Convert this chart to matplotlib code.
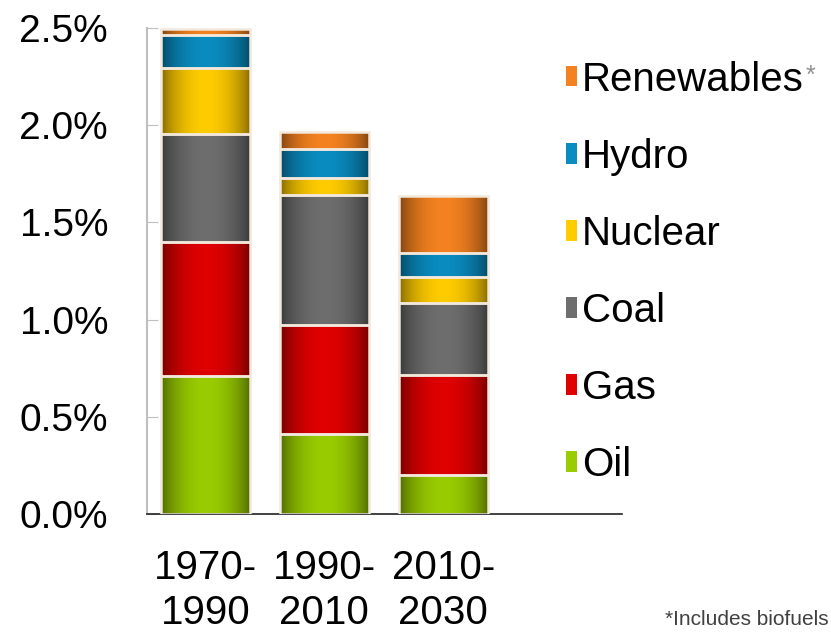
import matplotlib
matplotlib.use('agg')
import matplotlib.pyplot as plt
from matplotlib.patches import Patch
from matplotlib.colors import to_rgb
import numpy as np

plt.rcParams['font.family'] = ['Liberation Sans', 'DejaVu Sans']

periods = ['1970-\n1990', '1990-\n2010', '2010-\n2030']
sources = ['Oil', 'Gas', 'Coal', 'Nuclear', 'Hydro', 'Renewables']
oil = [0.71, 0.41, 0.20]
gas = [0.69, 0.56, 0.515]
coal = [0.555, 0.67, 0.37]
nuclear = [0.34, 0.09, 0.135]
hydro = [0.17, 0.145, 0.125]
renewables = [0.03, 0.09, 0.29]
colors = ['#9acd00', '#e00000', '#6e6e6e', '#ffcc00', '#0a8cc0', '#f58220']

values = [oil, gas, coal, nuclear, hydro, renewables]

fig = plt.figure(figsize=(8.31, 6.32), dpi=100)
ax = fig.add_axes([0.1769, 0.1867, 0.5716, 0.769])

# horizontal shading like the original bars (dark edges, bright middle)
t = np.linspace(0, 1, 64)
shade = 0.5 + 0.5 * np.sin(np.pi * t) ** 0.7

x = np.arange(len(periods))
bottom = np.zeros(len(periods))
for vals, col in zip(values, colors):
    bars = ax.bar(x, vals, 0.75, bottom=bottom, color=col,
                  edgecolor='#f3e8dc', linewidth=1.8, zorder=3)
    base = np.array(to_rgb(col))
    grad = np.clip(shade[None, :, None] * base[None, None, :], 0, 1)
    for r in bars:
        im = ax.imshow(grad, extent=[r.get_x(), r.get_x() + r.get_width(),
                                     r.get_y(), r.get_y() + r.get_height()],
                       aspect='auto', zorder=2, interpolation='bilinear')
        im.set_clip_path(r)
        r.set_facecolor('none')
    bottom += np.array(vals)

ax.set_xlim(-0.49, 3.5)
ax.set_ylim(0, 2.5)
ax.set_yticks(np.arange(0, 2.51, 0.5))
ax.set_yticklabels(['%.1f%%' % v for v in np.arange(0, 2.51, 0.5)])
ax.set_xticks(x)
ax.set_xticklabels(periods, linespacing=1.24)
ax.tick_params(axis='y', direction='in', length=8, color='#bfbfbf',
               labelsize=28, pad=28)
ax.tick_params(axis='x', length=0, labelsize=29, pad=25)
for s in ['top', 'right']:
    ax.spines[s].set_visible(False)
ax.spines['left'].set_color('#bfbfbf')
ax.spines['left'].set_linewidth(1.5)
ax.spines['bottom'].set_color('#222222')
ax.spines['bottom'].set_linewidth(1.2)

handles = [Patch(facecolor=c, edgecolor='none', label=s)
           for s, c in zip(sources, colors)][::-1]
leg = fig.legend(handles=handles, loc='upper left',
                 bbox_to_anchor=(0.681, 0.904), frameon=False, fontsize=29,
                 handlelength=0.28, handleheight=0.4, handletextpad=0.12,
                 labelspacing=0.97, borderpad=0, borderaxespad=0)

fig.canvas.draw()
bb = leg.get_texts()[0].get_window_extent()
fig.text(bb.x1 / fig.bbox.width + 0.002, bb.y1 / fig.bbox.height - 0.005, '*',
         fontsize=18, color='#909090', va='top', ha='left')

fig.text(0.997, 0.004, '*Includes biofuels', fontsize=15, color='#404040',
         va='bottom', ha='right')

plt.savefig('out.png', dpi=100)
